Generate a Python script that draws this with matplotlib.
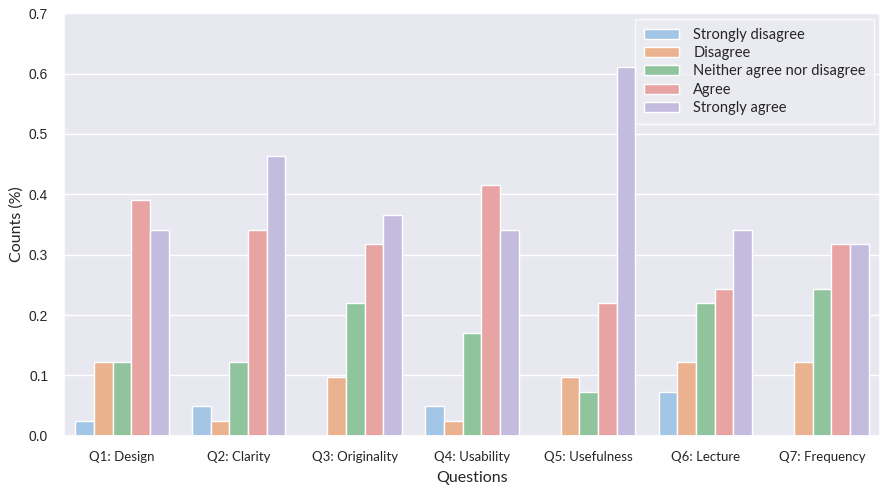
import matplotlib
matplotlib.use("Agg")
import matplotlib.pyplot as plt
import numpy as np
import seaborn as sns

sns.set_theme(style="darkgrid")
plt.rcParams['font.family'] = ['Lato', 'DejaVu Sans']

questions = ['Q1: Design', 'Q2: Clarity', 'Q3: Originality', 'Q4: Usability',
             'Q5: Usefulness', 'Q6: Lecture', 'Q7: Frequency']
answers = ['Strongly disagree', 'Disagree', 'Neither agree nor disagree',
           'Agree', 'Strongly agree']

# share of 41 responses per question
strongly_disagree = [0.024, 0.049, 0.0, 0.049, 0.0, 0.073, 0.0]
disagree = [0.122, 0.024, 0.098, 0.024, 0.098, 0.122, 0.122]
neutral = [0.122, 0.122, 0.220, 0.171, 0.073, 0.220, 0.244]
agree = [0.390, 0.341, 0.317, 0.415, 0.220, 0.244, 0.317]
strongly_agree = [0.341, 0.463, 0.366, 0.341, 0.610, 0.341, 0.317]

series = [strongly_disagree, disagree, neutral, agree, strongly_agree]
colors = ['#a4c6e6', '#ebb28f', '#8fc49d', '#e8a3a3', '#c4bcde']

fig, ax = plt.subplots(figsize=(8.82, 4.87), dpi=100)
ax.set_facecolor('#e8e8f0')
x = np.arange(len(questions))
w = 0.8 / len(series)
for i, (vals, lab) in enumerate(zip(series, answers)):
    ax.bar(x - 0.4 + w * (i + 0.5), vals, width=w, color=colors[i],
           edgecolor="white", linewidth=1.0, label=lab)

ax.grid(False, axis="x")
ax.set_xticks(x)
ax.set_xticklabels(questions, fontsize=9.5)
ax.set_xlim(-0.5, len(questions) - 0.5)
ax.set_ylim(0, 0.7)
yt = np.arange(0, 0.71, 0.1)
ax.set_yticks(yt)
ax.set_yticklabels([f"{v:.1f}" for v in yt], fontsize=10,
                   family=['Liberation Sans', 'DejaVu Sans'])
ax.tick_params(axis="x", pad=5)
ax.tick_params(axis="y", pad=5)
ax.set_xlabel("Questions", fontsize=11.5, labelpad=6)
ax.set_ylabel("Counts (%)", fontsize=11.5, labelpad=4)
ax.legend(loc="upper right", fontsize=10.5, facecolor="#ebebf2", framealpha=0.8,
          fancybox=False, edgecolor="white", borderaxespad=0.4, borderpad=0.6,
          handlelength=2.4, handletextpad=1.0, labelspacing=0.3)

fig.subplots_adjust(left=0.072, right=0.998, top=0.973, bottom=0.105)
fig.savefig("out.png")
